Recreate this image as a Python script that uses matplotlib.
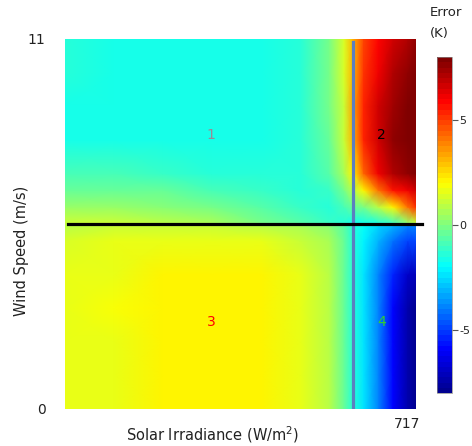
import numpy as np
import matplotlib
matplotlib.use("Agg")
import matplotlib.pyplot as plt
from matplotlib.colors import LinearSegmentedColormap

# Grid nodes
irradiance = [0, 100, 200, 300, 400, 480, 540, 570, 588, 610, 640, 670, 700, 717]
wind = [0, 1, 2, 3, 4, 5, 5.45, 5.55, 6, 6.5, 7, 8, 9, 10, 11]

# Error (K) at each node, rows follow `wind` (bottom to top)
err_w0    = [1.7, 1.7, 2.0, 2.1, 2.0, 1.6, 0.9, -0.3, -1.5, -2.3, -4.0, -5.8, -7.3, -7.8]
err_w1    = [1.7, 1.7, 2.05, 2.1, 2.0, 1.6, 0.9, -0.3, -1.5, -2.3, -4.0, -5.8, -7.3, -7.8]
err_w2    = [1.7, 1.7, 2.05, 2.1, 2.0, 1.6, 0.9, -0.3, -1.5, -2.3, -4.0, -5.8, -7.3, -7.8]
err_w3    = [1.7, 1.8, 2.1, 2.1, 2.0, 1.6, 0.9, -0.3, -1.5, -2.3, -4.0, -5.8, -7.3, -7.8]
err_w4    = [1.7, 1.7, 2.05, 2.1, 2.0, 1.6, 0.9, -0.3, -1.5, -2.3, -3.8, -5.3, -6.8, -7.2]
err_w5    = [1.4, 1.5, 1.6, 1.6, 1.5, 1.2, 0.6, -0.3, -1.4, -2.2, -3.2, -4.2, -4.8, -5.0]
err_w545  = [0.9, 1.0, 1.1, 1.1, 0.9, 0.6, 0.1, -0.6, -1.4, -2.0, -2.6, -3.2, -3.8, -4.0]
err_w555  = [1.1, 1.1, 0.9, 0.5, -0.1, -0.7, -1.2, -1.5, -1.7, -1.7, -1.4, -0.8, 0.3, 1.2]
err_w6    = [0.4, 0.4, 0.2, -0.2, -0.7, -1.2, -1.3, -0.9, -0.5, -0.2, 0.8, 2.2, 4.0, 5.0]
err_w65   = [-0.3, -0.3, -0.5, -0.8, -1.2, -1.4, -1.1, -0.2, 0.8, 2.2, 4.0, 5.5, 6.2, 6.5]
err_w7    = [-1.0, -1.0, -1.1, -1.3, -1.5, -1.5, -0.7, 0.5, 2.2, 4.3, 6.0, 7.0, 7.6, 7.8]
err_w8    = [-1.6, -1.6, -1.7, -1.7, -1.7, -1.4, -0.4, 1.0, 3.2, 5.4, 6.5, 7.5, 8.0, 8.0]
err_w9    = [-1.6, -1.7, -1.7, -1.7, -1.7, -1.3, -0.2, 1.2, 3.3, 5.4, 6.5, 7.4, 7.9, 8.0]
err_w10   = [-1.5, -1.6, -1.7, -1.7, -1.7, -1.3, -0.2, 1.3, 3.2, 5.2, 6.2, 7.0, 7.6, 7.8]
err_w11   = [-1.5, -1.6, -1.7, -1.7, -1.7, -1.3, -0.2, 1.3, 3.0, 4.8, 5.8, 6.6, 7.2, 7.5]

error_rows = [err_w0, err_w1, err_w2, err_w3, err_w4, err_w5, err_w545, err_w555,
              err_w6, err_w65, err_w7, err_w8, err_w9, err_w10, err_w11]

cbar_ticks = [-5, 0, 5]
cbar_labels = ["-5", "0", "5"]

region_labels = ["1", "2", "3", "4"]
region_x = [298, 646, 298, 646]
region_y = [8.15, 8.15, 2.59, 2.59]
region_colors = ["#9a8a94", "black", "red", "#33cc33"]

split_irr = 588
split_wind = 5.5

# MATLAB-style jet colormap, 64 levels
matlab_jet = LinearSegmentedColormap("matlab_jet", {
    "red":   [(0, 0, 0), (3/8, 0, 0), (5/8, 1, 1), (7/8, 1, 1), (1, 0.5, 0.5)],
    "green": [(0, 0, 0), (1/8, 0, 0), (3/8, 1, 1), (5/8, 1, 1), (7/8, 0, 0), (1, 0, 0)],
    "blue":  [(0, 0.5625, 0.5625), (1/8, 1, 1), (3/8, 1, 1), (5/8, 0, 0), (1, 0, 0)],
}, N=64)

fig = plt.figure(figsize=(4.72, 4.46), dpi=100)
ax = fig.add_axes([65/472, 1-409/446, 351/472, 370/446])
cax = fig.add_axes([437/472, 1-393/446, 15/472, 336/446])

X, Y = np.meshgrid(irradiance, wind)
C = np.array(error_rows)
mesh = ax.pcolormesh(X, Y, C, shading="gouraud", cmap=matlab_jet, vmin=-8, vmax=8)
ax.set_xlim(0, 717)
ax.set_ylim(0, 11)
for s in ax.spines.values():
    s.set_visible(False)

ax.axvline(split_irr, ymin=0.003, ymax=0.992, color="#5b7fc0", lw=2.3)
ax.axhline(split_wind, xmin=0.0085, xmax=1.017, color="black", lw=2.3, clip_on=False)

for t, x, y, c in zip(region_labels, region_x, region_y, region_colors):
    ax.text(x, y, t, color=c, fontsize=10, ha="center", va="center")

ax.set_yticks([0, 11])
ax.set_yticklabels(["0", "11"], fontsize=10, color="#222222")
ax.tick_params(axis="y", length=0, pad=14)
ax.set_xticks([])
ax.text(717 + 8, -0.25, "717", fontsize=10, color="#222222", ha="right", va="top")

fig.text(213/472, 1-435/446, "Solar Irradiance (W/m$^2$)", fontsize=10.5,
         ha="center", va="center", color="#222222")
fig.text(22/472, 1-251/446, "Wind Speed (m/s)", fontsize=10.5, rotation=90,
         ha="center", va="center", color="#222222")

cb = fig.colorbar(mesh, cax=cax)
cb.set_ticks(cbar_ticks)
cb.set_ticklabels(cbar_labels)
cb.ax.tick_params(length=4, width=0.8, color="#555555", labelsize=8, pad=1.5,
                  labelcolor="#222222")
cb.outline.set_linewidth(0.5)
cb.outline.set_edgecolor("#888888")

fig.text(430/472, 1-13/446, "Error", fontsize=9.5, ha="left", va="center", color="#222222")
fig.text(430/472, 1-33/446, "(K)", fontsize=9.5, ha="left", va="center", color="#222222")

fig.savefig("out.png", dpi=100)
